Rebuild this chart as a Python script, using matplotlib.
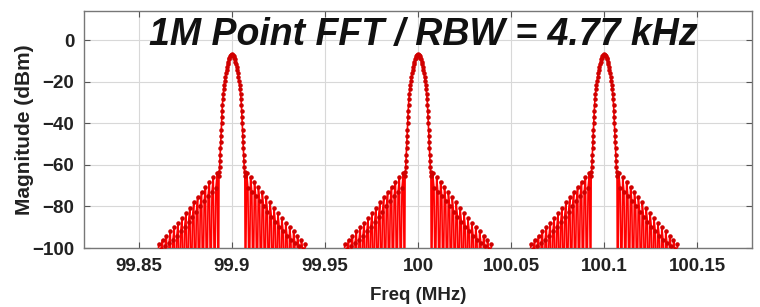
import numpy as np
import matplotlib
matplotlib.use('Agg')
import matplotlib.pyplot as plt

# centre frequencies of the three tones (MHz)
centers = [99.9, 100.0, 100.1]

# one-sided spectrum profile (offset in kHz, level in dBm)
# main lobe
main_off = [0.0, 0.3, 0.65, 0.95, 1.3, 1.6, 1.9, 2.25, 2.55, 2.85, 3.2, 3.5,
            3.8, 4.15, 4.4, 4.65, 4.9, 5.1, 5.25, 5.4, 5.55, 5.7, 5.85, 6.0,
            6.15, 6.3, 6.45, 6.6, 6.8, 6.95]
main_db = [-6.8, -6.9, -7.2, -7.7, -8.4, -9.3, -10.3, -11.5, -12.9, -14.4,
           -16.0, -17.7, -19.5, -21.5, -23.6, -26, -28.5, -31, -34, -37, -40,
           -43, -46, -49, -52, -55, -58, -61, -63.5, -65.5]
# side lobes (nulls fall below the -100 floor)
side_off = [7.2, 7.9, 8.6, 9.3, 10.0, 10.7, 11.4, 12.1, 12.8, 13.5, 14.2,
            14.9, 15.6, 16.3, 17.0, 17.7, 18.4, 19.1, 19.8, 20.5, 21.2, 21.9,
            22.6, 23.3, 24.0, 24.7, 25.4, 26.1, 26.8, 27.5, 28.2, 28.9, 29.6,
            30.3, 31.0, 31.7, 32.4, 33.1, 33.8, 34.5, 35.2, 35.9, 36.6, 37.3,
            38.0, 38.7, 39.4, 40.1]
side_db = [-130, -64, -71, -130, -66, -73, -130, -68, -75, -130, -70.5,
           -77.5, -130, -73, -80, -130, -75.5, -82.5, -130, -78, -85, -130,
           -80.5, -87.5, -130, -83, -90, -130, -85.5, -92, -130, -88, -94,
           -130, -90, -96, -130, -92, -97.5, -130, -94, -99, -130, -96,
           -100.5, -130, -98, -130]

xticks = [99.85, 99.9, 99.95, 100, 100.05, 100.1, 100.15]
xticklabels = ['99.85', '99.9', '99.95', '100', '100.05', '100.1', '100.15']
yticks = [0, -20, -40, -60, -80, -100]

plt.rcParams['font.family'] = ['Liberation Sans', 'DejaVu Sans']

half_off = np.array(main_off + side_off)
half_db = np.array(main_db + side_db)
off = np.concatenate([-half_off[::-1], half_off[1:]])
mag = np.concatenate([half_db[::-1], half_db[1:]])

fig = plt.figure(figsize=(7.6, 3.07), dpi=100)
ax = fig.add_axes([0.1105, 0.192, 0.879, 0.772])

for c in centers:
    ax.plot(c + off / 1000.0, mag, '-', color='#ff0000', lw=1.2,
            marker='.', ms=4.5, mfc='#d00000', mec='#d00000', zorder=3)

ax.set_xlim(99.8205, 100.1795)
ax.set_ylim(-100, 14)
ax.set_xticks(xticks)
ax.set_xticklabels(xticklabels)
ax.set_yticks(yticks)
ax.grid(True, color='#d8d8d8', lw=0.8)
ax.tick_params(direction='in', length=4, color='#555555', top=True, right=True,
               labelsize=13.5, pad=7)
for lbl in ax.get_xticklabels() + ax.get_yticklabels():
    lbl.set_fontweight('bold')
    lbl.set_color('#222222')
for s in ax.spines.values():
    s.set_color('#777777')
    s.set_linewidth(1.0)

ax.set_xlabel('Freq (MHz)', fontsize=13.5, fontweight='bold', color='#222222', labelpad=9)
ax.set_ylabel('Magnitude (dBm)', fontsize=15, fontweight='bold', color='#222222', labelpad=-1)

fig.text(0.557, 0.886, '1M Point FFT / RBW = 4.77 kHz', ha='center', va='center',
         fontsize=27, fontweight='bold', fontstyle='italic', color='#111111')

fig.savefig('out.png', dpi=100)
